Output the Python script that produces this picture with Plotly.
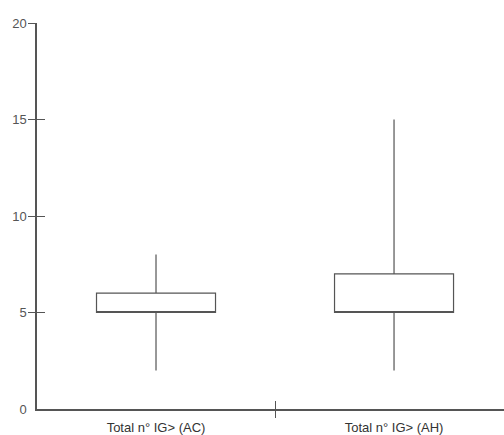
import plotly.graph_objects as go

categories = ["Total n° IG> (AC)", "Total n° IG> (AH)"]
positions = [0, 1]
lower = [2, 2]
q1 = [5, 5]
median = [5, 5]
q3 = [6, 7]
upper = [8, 15]
y_ticks = [0, 5, 10, 15, 20]
y_marks = [5, 10, 15, 20]
divider = [0.5]

AX = "#555555"
FONT = "Liberation Sans, Arial, sans-serif"

fig = go.Figure()
for i in range(len(categories)):
    fig.add_trace(go.Box(
        x=[positions[i]], q1=[q1[i]], median=[median[i]], q3=[q3[i]],
        lowerfence=[lower[i]], upperfence=[upper[i]],
        width=0.5, whiskerwidth=0, fillcolor="white",
        line=dict(color=AX, width=1.2), boxpoints=False,
        showlegend=False, hoverinfo="skip", name=categories[i]))

# invisible traces for overlay axes
for xa, ya in [("x2", "y"), ("x3", "y"), ("x", "y2"), ("x", "y3")]:
    fig.add_trace(go.Scatter(x=[None], y=[None], xaxis=xa, yaxis=ya,
                             showlegend=False, hoverinfo="skip"))

xr = [-0.5, 1.462]
yr = [0, 20]
common_x = dict(range=xr, showgrid=False, zeroline=False)
common_y = dict(range=yr, showgrid=False, zeroline=False)

fig.update_layout(
    width=504, height=435,
    margin=dict(l=37, r=0, t=23, b=22),
    paper_bgcolor="white", plot_bgcolor="white",
    font=dict(family=FONT, size=13, color=AX),
    xaxis=dict(**common_x, tickvals=positions, ticktext=categories, ticks="",
               showline=True, linecolor=AX, linewidth=1.5,
               tickfont=dict(color="#333333", size=13), ticklabelstandoff=6),
    xaxis2=dict(**common_x, overlaying="x", anchor="y", side="bottom",
                tickvals=divider, ticks="outside", ticklen=8, tickwidth=1.2,
                tickcolor=AX, showticklabels=False),
    xaxis3=dict(**common_x, overlaying="x", anchor="y", side="bottom",
                tickvals=divider, ticks="inside", ticklen=8, tickwidth=1.2,
                tickcolor=AX, showticklabels=False),
    yaxis=dict(**common_y, tickvals=y_ticks, ticks="", showline=True,
               linecolor=AX, linewidth=1.5,
               tickfont=dict(color=AX, size=13), ticklabelstandoff=6),
    yaxis2=dict(**common_y, overlaying="y", anchor="x", side="left",
                tickvals=y_marks, ticks="outside", ticklen=8, tickwidth=1.2,
                tickcolor=AX, showticklabels=False),
    yaxis3=dict(**common_y, overlaying="y", anchor="x", side="left",
                tickvals=y_marks, ticks="inside", ticklen=8, tickwidth=1.2,
                tickcolor=AX, showticklabels=False),
)

fig.write_html("out.html")
